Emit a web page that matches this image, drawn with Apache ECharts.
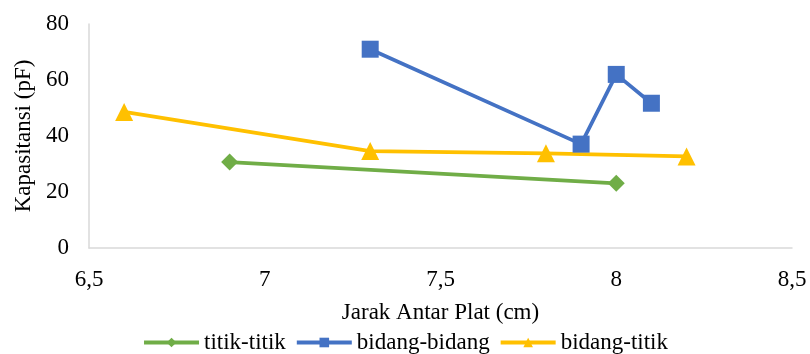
<!DOCTYPE html>
<html><head><meta charset="utf-8">
<script src="https://cdn.jsdelivr.net/npm/echarts@6/dist/echarts.min.js"></script>
<style>html,body{margin:0;padding:0;background:#fff}#c{width:810px;height:354px}</style>
</head><body><div id="c"></div>
<script>
const seriesNames = ['titik-titik', 'bidang-bidang', 'bidang-titik'];
const titikX = [6.9, 8.0];
const titikY = [30.7, 23.1];
const bidangX = [7.3, 7.9, 8.0, 8.1];
const bidangY = [71.0, 37.1, 62.0, 51.7];
const btX = [6.6, 7.3, 7.8, 8.2];
const btY = [48.6, 34.6, 33.8, 32.7];
const xTicks = [6.5, 7, 7.5, 8, 8.5];
const yTicks = [0, 20, 40, 60, 80];

const zip = (xs, ys) => xs.map((x, i) => [x, ys[i]]);
const font = '"Liberation Serif", "Times New Roman", serif';
const fs = 23;
const chart = echarts.init(document.getElementById('c'));
chart.setOption({
  animation: false,
  grid: {left: 89, right: 18, top: 24, bottom: 106},
  xAxis: {
    type: 'value', min: xTicks[0], max: xTicks[xTicks.length - 1], interval: 0.5,
    name: 'Jarak Antar Plat (cm)', nameLocation: 'middle', nameGap: 53,
    nameTextStyle: {fontFamily: font, fontSize: fs, color: '#000'},
    axisLine: {lineStyle: {color: '#d9d9d9', width: 1.5}},
    axisTick: {show: false}, splitLine: {show: false},
    axisLabel: {fontFamily: font, fontSize: fs, color: '#000', margin: 20,
      formatter: v => String(v).replace('.', ',')}
  },
  yAxis: {
    type: 'value', min: yTicks[0], max: yTicks[yTicks.length - 1], interval: 20,
    name: 'Kapasitansi (pF)', nameLocation: 'middle', nameGap: 49,
    nameTextStyle: {fontFamily: font, fontSize: fs, color: '#000'},
    axisLine: {show: true, lineStyle: {color: '#d9d9d9', width: 1.5}},
    axisTick: {show: false}, splitLine: {show: false},
    axisLabel: {fontFamily: font, fontSize: fs, color: '#000', margin: 20}
  },
  legend: {
    bottom: -5, left: 'center', itemGap: 9, itemWidth: 55, itemHeight: 12,
    textStyle: {fontFamily: font, fontSize: fs, color: '#000'},
    lineStyle: {width: 4},
    data: seriesNames
  },
  series: [
    {name: seriesNames[0], type: 'line', data: zip(titikX, titikY),
     symbol: 'diamond', symbolSize: 17, color: '#70AD47', lineStyle: {width: 3.75}},
    {name: seriesNames[1], type: 'line', data: zip(bidangX, bidangY),
     symbol: 'rect', symbolSize: 17, color: '#4472C4', lineStyle: {width: 3.75}},
    {name: seriesNames[2], type: 'line', data: zip(btX, btY),
     symbol: 'triangle', symbolSize: 18, color: '#FFC000', lineStyle: {width: 3.75}}
  ]
});
</script></body></html>
